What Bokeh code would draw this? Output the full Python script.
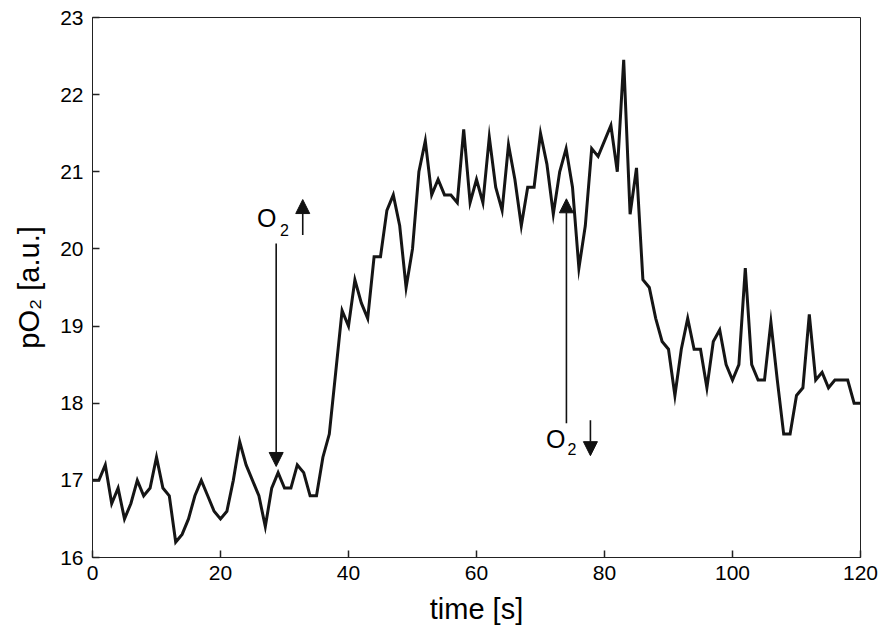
from bokeh.plotting import figure
from bokeh.models import Range1d, FixedTicker, Arrow, NormalHead, Label
from bokeh.embed import file_html
from bokeh.resources import INLINE

# ---- data ----
time_s = list(range(0, 121))
po2 = [
    17.0, 17.0, 17.2, 16.7, 16.9, 16.5, 16.7, 17.0, 16.8, 16.9,
    17.3, 16.9, 16.8, 16.2, 16.3, 16.5, 16.8, 17.0, 16.8, 16.6,
    16.5, 16.6, 17.0, 17.5, 17.2, 17.0, 16.8, 16.4, 16.9, 17.1,
    16.9, 16.9, 17.2, 17.1, 16.8, 16.8, 17.3, 17.6, 18.4, 19.2,
    19.0, 19.6, 19.3, 19.1, 19.9, 19.9, 20.5, 20.7, 20.3, 19.5,
    20.0, 21.0, 21.4, 20.7, 20.9, 20.7, 20.7, 20.6, 21.55, 20.6,
    20.9, 20.6, 21.45, 20.8, 20.5, 21.35, 20.9, 20.3, 20.8, 20.8,
    21.5, 21.1, 20.45, 21.0, 21.3, 20.8, 19.75, 20.3, 21.3, 21.2,
    21.4, 21.6, 21.0, 22.45, 20.45, 21.05, 19.6, 19.5, 19.1, 18.8,
    18.7, 18.1, 18.7, 19.1, 18.7, 18.7, 18.2, 18.8, 18.95, 18.5,
    18.3, 18.5, 19.75, 18.5, 18.3, 18.3, 19.05, 18.3, 17.6, 17.6,
    18.1, 18.2, 19.15, 18.3, 18.4, 18.2, 18.3, 18.3, 18.3, 18.0,
    18.0,
]
x_ticks = [0, 20, 40, 60, 80, 100, 120]
y_ticks = [16, 17, 18, 19, 20, 21, 22, 23]

# annotation anchors (data units): O2 increase at ~28.7 s, O2 decrease at ~74 s
ann_up_x, ann_up_from, ann_up_to = 28.7, 20.07, 17.18
ann_dn_x, ann_dn_from, ann_dn_to = 74.05, 17.74, 20.65

FONT = "Liberation Sans"

p = figure(width=881, height=630, output_backend="svg", toolbar_location=None,
           x_range=Range1d(0, 120), y_range=Range1d(16, 23),
           min_border_left=92, min_border_right=21, min_border_top=17, min_border_bottom=73)
p.background_fill_color = "white"
p.border_fill_color = "white"
p.outline_line_color = "#222222"
p.outline_line_width = 1
p.grid.visible = False

p.line(time_s, po2, line_color="#151515", line_width=3, line_join="miter")

for ax, ticks in ((p.xaxis[0], x_ticks), (p.yaxis[0], y_ticks)):
    ax.ticker = FixedTicker(ticks=ticks)
    ax.major_tick_in = 7
    ax.major_tick_out = 0
    ax.minor_tick_in = 0
    ax.minor_tick_out = 0
    ax.major_tick_line_color = "#222222"
    ax.major_tick_line_width = 1.5
    ax.axis_line_color = "#222222"
    ax.major_label_text_font = FONT
    ax.major_label_text_font_size = "21px"
    ax.major_label_text_color = "black"
    ax.axis_label_text_font = FONT
    ax.axis_label_text_font_style = "normal"
    ax.axis_label_text_color = "black"
    ax.axis_label_text_font_size = "29px"

p.xaxis.axis_label = "time [s]"
p.yaxis.axis_label = "pO₂ [a.u.]"
p.xaxis.major_label_standoff = 8
p.yaxis.major_label_standoff = 9
p.xaxis.axis_label_standoff = 10
p.yaxis.axis_label_standoff = 12

# arrows
def arrow(x, y0, y1):
    p.add_layout(Arrow(end=NormalHead(size=14, fill_color="#111111", line_color="#111111"),
                       x_start=x, y_start=y0, x_end=x, y_end=y1,
                       line_color="#111111", line_width=1.6))

arrow(ann_up_x, ann_up_from, ann_up_to)
arrow(ann_dn_x, ann_dn_from, ann_dn_to)
# small direction arrows next to the O2 labels
arrow(32.85, 20.18, 20.64)
arrow(77.8, 17.78, 17.32)

# O2 texts
for (xo, yo, xs, ys) in ((25.7, 20.4, 29.3, 20.25), (70.85, 17.54, 74.2, 17.41)):
    p.add_layout(Label(x=xo, y=yo, text="O", text_font=FONT, text_font_size="25px",
                       text_align="left", text_baseline="alphabetic", text_color="black"))
    p.add_layout(Label(x=xs, y=ys, text="2", text_font=FONT, text_font_size="16px",
                       text_align="left", text_baseline="alphabetic", text_color="black"))

open("out.html", "w").write(file_html(p, INLINE))
